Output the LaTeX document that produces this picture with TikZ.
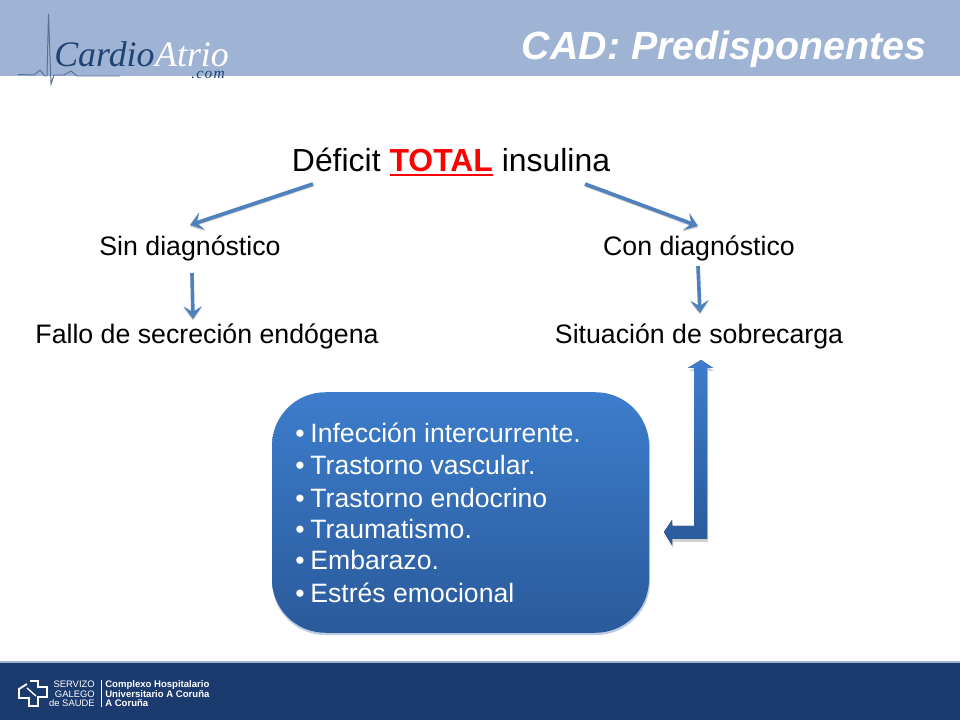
\documentclass[tikz,border=0pt]{standalone}
\usepackage{fontspec}
\setmainfont{Liberation Sans}
\newfontfamily\logofont{Liberation Serif}
\newfontfamily\comfont[LetterSpace=8]{Liberation Serif}
\usetikzlibrary{arrows.meta}

\definecolor{bannerblue}{HTML}{9FB4D4}
\definecolor{footerblue}{HTML}{1B3A6E}
\definecolor{arrowblue}{HTML}{4F81BD}
\definecolor{boxtop}{HTML}{3D7DCC}
\definecolor{boxbottom}{HTML}{2A5A9B}
\definecolor{boxshadow}{HTML}{BCCBE2}
\definecolor{logoblue}{HTML}{1F4373}

\newcommand{\redtotal}{{\color{red}\setbox0=\hbox{\textbf{TOTAL}}\copy0\llap{\rule[-3pt]{\wd0}{1.5pt}}}}
\newcommand{\bentshape}{(701,360) -- (713,368) -- (707,368) -- (707,539) -- (672,539) -- (672,545) -- (664,532) -- (672,520) -- (672,526) -- (694,526) -- (694,368) -- (688,368) -- cycle}

\tikzset{
	label text/.style={font=\fontsize{19}{19}\selectfont,text=black,inner sep=0pt,anchor=base},
	thin arrow/.style={draw=arrowblue,line width=2.6pt,-{Stealth[length=9pt,width=13pt,inset=4pt]},
		preaction={draw=black!20,line width=2pt,transform canvas={yshift=-1pt}}},
}

\begin{document}
\begin{tikzpicture}[x=0.025cm,y=-0.025cm]
		\useasboundingbox (0,0) rectangle (960,720);

		% banner and footer
		\fill[bannerblue] (0,0) rectangle (960,76);
		\fill[footerblue] (0,662) rectangle (960,720);
		\fill[bannerblue] (0,661) rectangle (960,663);

		% logo
		\draw[logoblue!75,line width=0.7pt] (18,74.5) -- (34,75) -- (40,70) -- (45,76) -- (47,76) -- (48.5,14) -- (51,84) -- (54,75) -- (64,75) -- (71,71) -- (77,76) -- (120,76);
		\node[anchor=base west,inner sep=0pt,text=logoblue,font=\logofont\itshape\fontsize{25.5}{25.5}\selectfont] (logocardio) at (54,67) {Cardio};
		\node[anchor=base west,inner sep=0pt,text=white,font=\logofont\itshape\fontsize{25.5}{25.5}\selectfont] (logoatrio) at (logocardio.base east) {Atrio};
		\node[anchor=base east,inner sep=0pt,text=logoblue,font=\comfont\itshape\fontsize{11}{11}\selectfont] (logocom) at (225,79) {.com};

		% title
		\node[anchor=base east,inner sep=0pt,text=white,font=\bfseries\itshape\fontsize{28}{28}\selectfont] (title) at (927,60) {CAD: Predisponentes};

		% text
		\node[label text,font=\fontsize{22.7}{22.7}\selectfont] (deficit) at (451,172) {Déficit \redtotal{} insulina};
		\node[label text] (sindiag) at (190,255.5) {Sin diagnóstico};
		\node[label text] (condiag) at (699,255.5) {Con diagnóstico};
		\node[label text] (fallo) at (207,343.5) {Fallo de secreción endógena};
		\node[label text] (situacion) at (699,343.5) {Situación de sobrecarga};

		% arrows
		\coordinate (deficitleft) at (313,184);
		\coordinate (deficitright) at (585,184);
		\coordinate (sintip) at (190,225);
		\coordinate (contip) at (698,226);
		\coordinate (sinstart) at (192,273);
		\coordinate (falloend) at (193,319);
		\coordinate (constart) at (698,266);
		\coordinate (situend) at (700,313);
		\draw[thin arrow] (deficitleft) -- (sintip);
		\draw[thin arrow] (deficitright) -- (contip);
		\draw[thin arrow] (sinstart) -- (falloend);
		\draw[thin arrow] (constart) -- (situend);

		% box
		\fill[boxshadow,rounded corners=38] (272,395) rectangle (650,635);
		\node[top color=boxtop,bottom color=boxbottom,rounded corners=38,
			minimum width=377*0.025cm,minimum height=240.5*0.025cm,inner sep=0pt] (causebox) at (460.5,512.5) {};
		\foreach \y/\txt in {443/Infección intercurrente.,475/Trastorno vascular.,507/Trastorno endocrino,539/Traumatismo.,570/Embarazo.,602/Estrés emocional} {
			\node[anchor=base west,inner sep=0pt,text=white,font=\fontsize{18.9}{18.9}\selectfont] at (295,\y) {•\hspace{0.22em}\txt};
		}

		% bent arrow
		\fill[black!18,shift={(1,3)}] \bentshape;
		\fill[top color=boxtop,bottom color=boxbottom] \bentshape;

		% footer logo
		\draw[white,line width=1.3pt] (30,681) -- (38,681) -- (38,687) -- (47,687) -- (47,697) -- (38,697) -- (38,706) -- (29,706) -- (29,698) -- (19,698) -- (19,689) -- (27,684);
		\draw[white,line width=1pt] (27,688) -- (36,696);
		\foreach \y/\txt in {687/SERVIZO,697/GALEGO,706/de SAUDE} {
			\node[anchor=base east,inner sep=0pt,text=white,font=\fontsize{6.7}{6.7}\selectfont] at (95,\y) {\txt};
		}
		\draw[white,line width=0.7pt] (101,680) -- (101,707);
		\foreach \y/\txt in {687/Complexo Hospitalario,697/Universitario A Coruña,706/A Coruña} {
			\node[anchor=base west,inner sep=0pt,text=white,font=\bfseries\fontsize{6.8}{6.8}\selectfont] at (105,\y) {\txt};
		}
\end{tikzpicture}
\end{document}
